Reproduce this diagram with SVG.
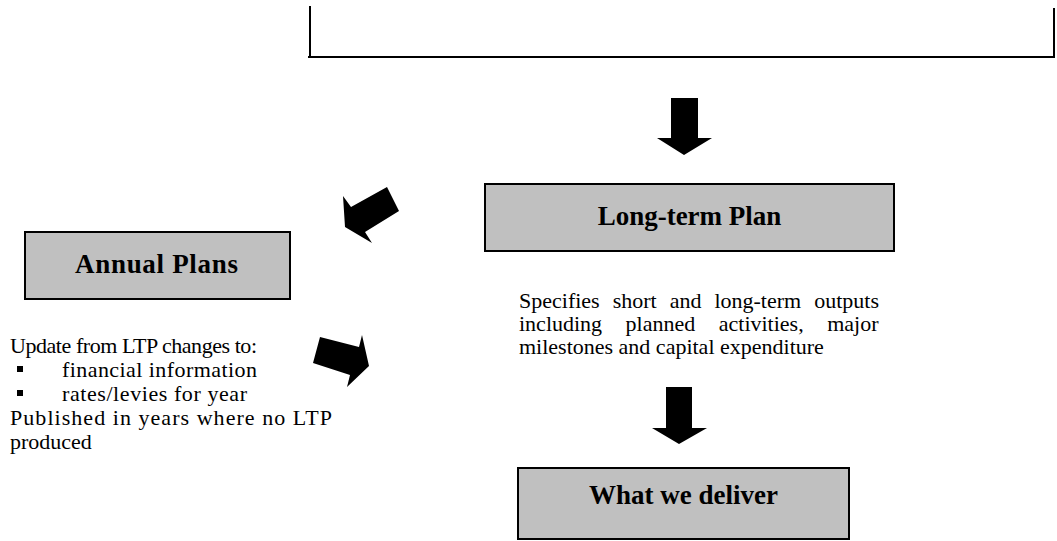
<svg xmlns="http://www.w3.org/2000/svg" width="1057" height="541" viewBox="0 0 1057 541">
<style>
.box{fill:#c0c0c0;stroke:#000;stroke-width:2}
.title{font-family:"Liberation Serif",serif;font-weight:bold;font-size:27px;fill:#000}
.body{font-family:"Liberation Serif",serif;font-size:22px;fill:#000}
.arrow{fill:#000}
.frame{stroke:#000;stroke-width:2;fill:none}
</style>
<rect width="1057" height="541" fill="#fff"/>
<g id="frame">
<line class="frame" x1="310" y1="6" x2="310" y2="57"/>
<line class="frame" x1="308" y1="57" x2="1055" y2="57"/>
<line class="frame" x1="1054" y1="8" x2="1054" y2="57"/>
</g>
<g id="connectors">
<polygon class="arrow" points="671,98 698,98 698,138 712,138 684,155 657,138 671,138"/>
<polygon class="arrow" points="343,196 345,227 372,243 365,232 399,211 387,187 351,207"/>
<polygon class="arrow" points="320,337 359,347 362,335 369,366 347,387 350,375 313,363"/>
<polygon class="arrow" points="666,387 692,387 692,428 707,428 679,444 652,428 666,428"/>
</g>
<g id="long-term-plan">
<rect class="box" x="485" y="184" width="409" height="67"/>
<text class="title" x="689.5" y="225" text-anchor="middle">Long-term Plan</text>
</g>
<g id="ltp-notes">
<text class="body" x="519" y="308" style="word-spacing:7.5px">Specifies short and long-term outputs</text>
<text class="body" x="519" y="331" style="word-spacing:18px">including planned activities, major</text>
<text class="body" x="519" y="354">milestones and capital expenditure</text>
</g>
<g id="annual-plans">
<rect class="box" x="25" y="232" width="265" height="67"/>
<text class="title" x="75" y="273" textLength="163" lengthAdjust="spacing">Annual Plans</text>
</g>
<g id="annual-notes">
<text class="body" x="10" y="353" textLength="247" lengthAdjust="spacing">Update from LTP changes to:</text>
<rect x="17" y="366" width="6" height="6" fill="#000"/>
<text class="body" x="62" y="377" textLength="195" lengthAdjust="spacing">financial information</text>
<rect x="17" y="390" width="6" height="6" fill="#000"/>
<text class="body" x="62" y="401" textLength="185" lengthAdjust="spacing">rates/levies for year</text>
<text class="body" x="10" y="425" textLength="322" lengthAdjust="spacing">Published in years where no LTP</text>
<text class="body" x="10" y="449">produced</text>
</g>
<g id="what-we-deliver">
<rect class="box" x="518" y="468" width="331" height="71"/>
<text class="title" x="683.5" y="504" text-anchor="middle">What we deliver</text>
</g>
</svg>
